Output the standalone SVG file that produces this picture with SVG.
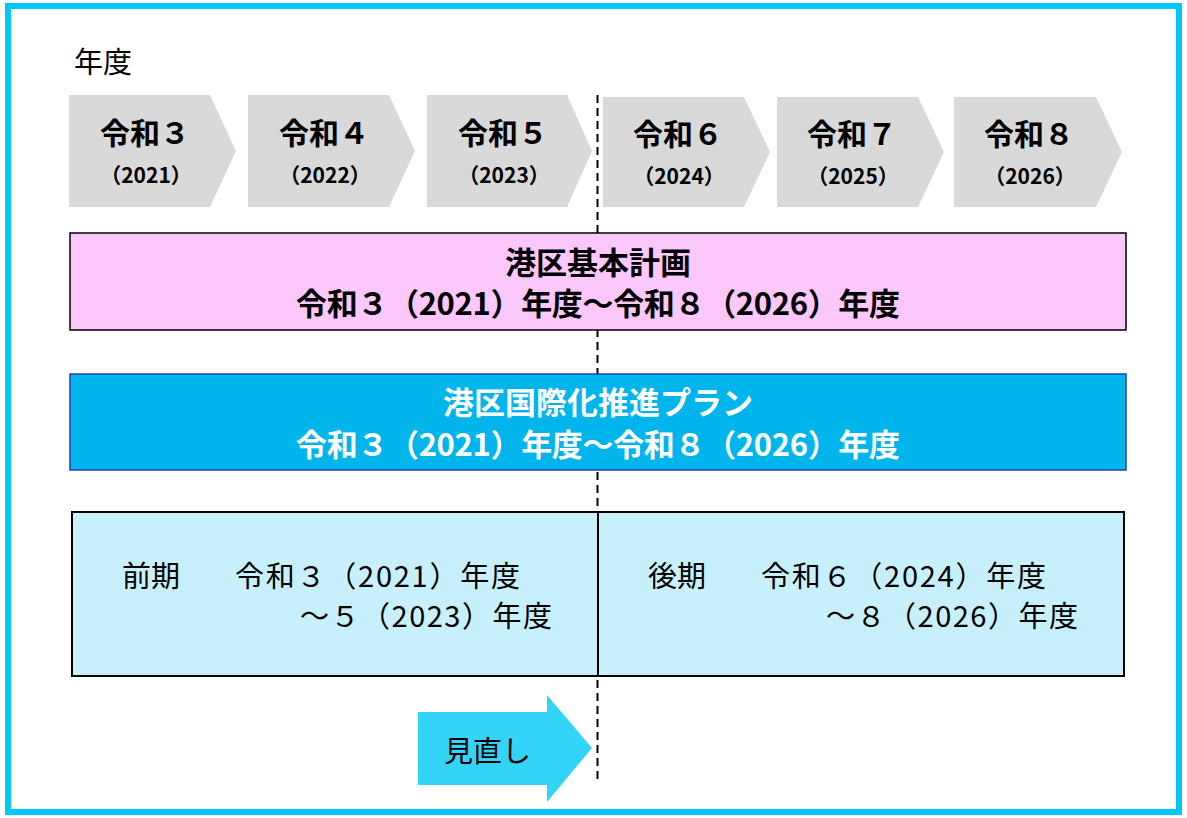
<svg xmlns="http://www.w3.org/2000/svg" width="1187" height="818" viewBox="0 0 1187 818">
<style>
text{font-family:"Noto Sans CJK JP","Noto Sans",sans-serif;fill:#000}
.yr{font-size:30px;font-weight:bold;text-anchor:middle}
.ys{font-size:21px;font-weight:bold;text-anchor:middle}
.pent{fill:#d9d9d9}
.t1{font-size:31px;font-weight:bold;text-anchor:middle}
.w{fill:#fff}
.t2{font-size:29px}
</style>
<rect x="0" y="0" width="1187" height="818" fill="#fff"/>
<rect x="8" y="6" width="1171" height="806" fill="none" stroke="#00c8fa" stroke-width="6"/>
<text x="74" y="73" style="font-size:29px">年度</text>
<g id="connectors">
<line x1="597.5" y1="95" x2="597.5" y2="780" stroke="#000" stroke-width="2" stroke-dasharray="8,5"/>
</g>
<g id="y2021"><path class="pent" d="M69,95 H210 L236,151 L210,207 H69 Z"/><text class="yr" x="145" y="144">令和３</text><text class="ys" x="146" y="183">（2021）</text></g>
<g id="y2022"><path class="pent" d="M248,95 H389 L415,151 L389,207 H248 Z"/><text class="yr" x="324" y="144">令和４</text><text class="ys" x="325" y="183">（2022）</text></g>
<g id="y2023"><path class="pent" d="M427,95 H567 L592,151 L567,207 H427 Z"/><text class="yr" x="503" y="144">令和５</text><text class="ys" x="504" y="183">（2023）</text></g>
<g id="y2024"><path class="pent" d="M603,97 H744 L770,152 L744,207 H603 Z"/><text class="yr" x="678" y="145">令和６</text><text class="ys" x="679" y="184">（2024）</text></g>
<g id="y2025"><path class="pent" d="M777,97 H918 L944,152 L918,207 H777 Z"/><text class="yr" x="852" y="145">令和７</text><text class="ys" x="853" y="184">（2025）</text></g>
<g id="y2026"><path class="pent" d="M954,97 H1096 L1122,152 L1096,207 H954 Z"/><text class="yr" x="1029" y="145">令和８</text><text class="ys" x="1030" y="184">（2026）</text></g>
<g id="kihon">
<rect x="70" y="233" width="1056" height="97" fill="#fcc8fc" stroke="#000" stroke-width="1.5"/>
<text class="t1" x="598" y="274">港区基本計画</text>
<text class="t1" x="598" y="315" textLength="604" lengthAdjust="spacing">令和３（2021）年度～令和８（2026）年度</text>
</g>
<g id="kokusai">
<rect x="70" y="374" width="1056" height="96" fill="#00b4ec" stroke="#1f3fbf" stroke-width="1.5"/>
<text class="t1 w" x="598" y="414">港区国際化推進プラン</text>
<text class="t1 w" x="598" y="456" textLength="604" lengthAdjust="spacing">令和３（2021）年度～令和８（2026）年度</text>
</g>
<g id="zenki">
<rect x="72" y="512" width="526" height="164" fill="#c8f0fc" stroke="#000" stroke-width="2"/>
<text class="t2" x="122" y="587">前期</text>
<text class="t2" x="235" y="587" textLength="285" lengthAdjust="spacing">令和３（2021）年度</text>
<text class="t2" x="300" y="627" textLength="252" lengthAdjust="spacing">～５（2023）年度</text>
</g>
<g id="kouki">
<rect x="598" y="512" width="526" height="164" fill="#c8f0fc" stroke="#000" stroke-width="2"/>
<text class="t2" x="648" y="587">後期</text>
<text class="t2" x="761" y="587" textLength="285" lengthAdjust="spacing">令和６（2024）年度</text>
<text class="t2" x="826" y="627" textLength="252" lengthAdjust="spacing">～８（2026）年度</text>
</g>
<g id="minaoshi">
<path d="M418,712 H547 V695 L592,748 L547,802 V785 H418 Z" fill="#33d4f8"/>
<text class="t2" x="444" y="762">見直し</text>
</g>
</svg>
